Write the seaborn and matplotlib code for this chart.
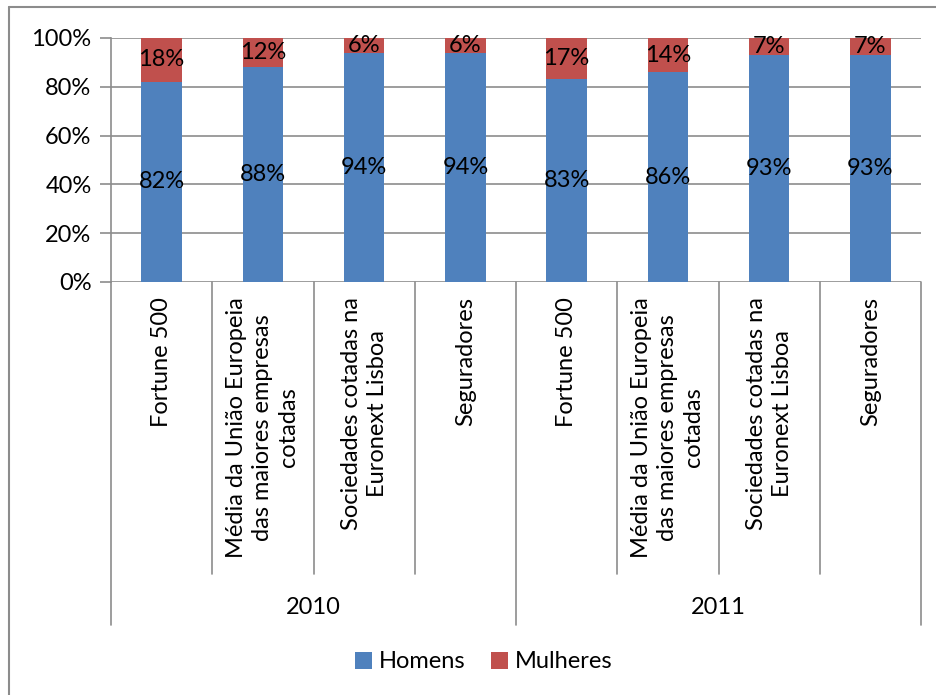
import numpy as np
import pandas as pd
import matplotlib
matplotlib.use("Agg")
import matplotlib.pyplot as plt
import seaborn as sns
from matplotlib.lines import Line2D
from matplotlib.patches import Patch

years = ["2010", "2011"]
categories = [
    "Fortune 500",
    "Média da União Europeia\ndas maiores empresas\ncotadas",
    "Sociedades cotadas na\nEuronext Lisboa",
    "Seguradores",
]
homens = [82, 88, 94, 94, 83, 86, 93, 93]
mulheres = [18, 12, 6, 6, 17, 14, 7, 7]
yticks = [0, 20, 40, 60, 80, 100]

sns.set_theme(style="white")
plt.rcParams["font.family"] = ["Lato", "DejaVu Sans"]
plt.rcParams["text.color"] = "black"

keys = [f"{y}|{c}" for y in years for c in categories]
df = pd.DataFrame({
    "key": keys,
    "Homens": homens,
    "Mulheres": mulheres,
})
df["Total"] = df["Homens"] + df["Mulheres"]

BLUE = "#4F81BD"
RED = "#C0504D"
GRAY = "#8C8C8C"
FS = 17

fig = plt.figure(figsize=(9.36, 6.95), dpi=100)
ax = fig.add_axes([111/936, 1-282/695, (921-111)/936, (282-38)/695])

sns.barplot(data=df, x="key", y="Total", color=RED, width=0.4, ax=ax,
            saturation=1, zorder=3, order=keys, edgecolor="none")
sns.barplot(data=df, x="key", y="Homens", color=BLUE, width=0.4, ax=ax,
            saturation=1, zorder=4, order=keys, edgecolor="none")

ax.set_xlim(-0.5, len(keys) - 0.5)
ax.set_ylim(0, 100)
ax.set_yticks(yticks)
ax.set_yticklabels([f"{v}%" for v in yticks], fontsize=FS)
ax.set_xticks([])
ax.set_xlabel("")
ax.set_ylabel("")
for s in ["top", "right", "bottom"]:
    ax.spines[s].set_visible(False)
ax.spines["left"].set_color(GRAY)
ax.spines["left"].set_linewidth(1.2)
ax.tick_params(axis="y", length=8, width=1.2, color=GRAY, direction="out",
               left=True, pad=6, labelcolor="black")
ax.yaxis.grid(True, color=GRAY, linewidth=1.2)
ax.set_axisbelow(True)

# data labels
for i, (h, m) in enumerate(zip(homens, mulheres)):
    ax.text(i, h / 2, f"{h}%", ha="center", va="center", fontsize=FS, zorder=6)
    ax.text(i, h + m / 2, f"{m}%", ha="center", va="center", fontsize=FS, zorder=6)

# multi-level axis lines and labels
trans = ax.get_xaxis_transform()
inner_bottom = (282 - 574) / 244
outer_bottom = (282 - 625) / 244
n = len(keys)
for b in range(n + 1):
    xpos = b - 0.5
    yb = outer_bottom if b % len(categories) == 0 else inner_bottom
    ax.add_line(Line2D([xpos, xpos], [0, yb], transform=trans, color=GRAY,
                       linewidth=1.2, clip_on=False))

label_top = (282 - 297) / 244
for i, k in enumerate(keys):
    cat = k.split("|", 1)[1]
    ax.text(i, label_top, cat, transform=trans, rotation=90, ha="center",
            va="top", multialignment="center", fontsize=FS, linespacing=1.3)

year_y = (282 - 607) / 244
for gi, y in enumerate(years):
    center = gi * len(categories) + (len(categories) - 1) / 2
    ax.text(center, year_y, y, transform=trans, ha="center", va="center",
            fontsize=FS)

# outer chart frame (left and top edges visible)
fig.add_artist(Line2D([9/936, 9/936], [0, 1 - 7/695], color=GRAY, linewidth=1.5,
                      transform=fig.transFigure))
fig.add_artist(Line2D([9/936, 1], [1 - 7/695, 1 - 7/695], color=GRAY, linewidth=1.5,
                      transform=fig.transFigure))

handles = [Patch(facecolor=BLUE, edgecolor="none", label="Homens"),
           Patch(facecolor=RED, edgecolor="none", label="Mulheres")]
fig.legend(handles=handles, loc="center", bbox_to_anchor=(484/936, 1 - 662/695),
           ncol=2, frameon=False, fontsize=FS, handlelength=0.7, handleheight=0.7,
           handletextpad=0.3, columnspacing=1.1)

fig.savefig("out.png", dpi=100)
